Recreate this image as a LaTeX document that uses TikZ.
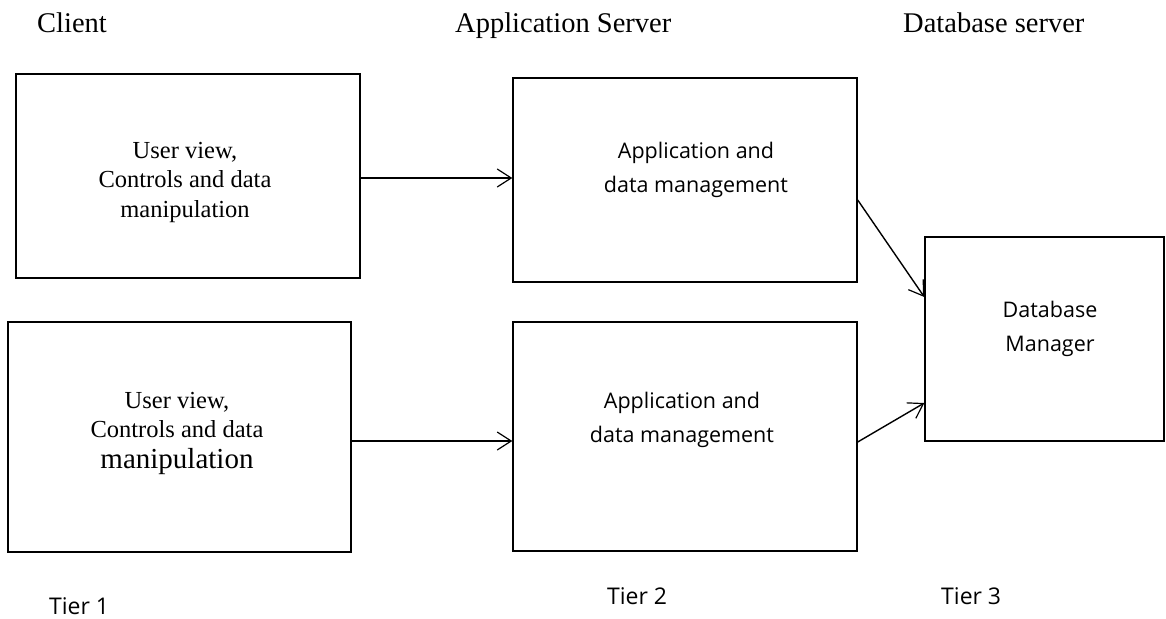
\documentclass[tikz,border=0pt]{standalone}
\usepackage{fontspec}
\setmainfont{Liberation Serif}
\newfontfamily\sansf{Open Sans}
\usetikzlibrary{arrows.meta}
\begin{document}
\begin{tikzpicture}[x=1pt,y=-1pt,
  boxnode/.style={draw, line width=1.4pt, inner sep=0pt, minimum width=#1},
  arr/.style={line width=1.4pt, -{Straight Barb[length=14pt,width=18pt,line width=1.2pt]}},
  head/.style={anchor=base west, inner sep=0pt, font=\fontsize{28.5}{30}\selectfont},
  serifbox/.style={anchor=base, align=center, inner sep=0pt, font=\fontsize{24.5}{29.5}\selectfont},
  sansbox/.style={anchor=base, align=center, inner sep=0pt, font=\sansf\fontsize{21.5}{34}\selectfont},
  tier/.style={anchor=base west, inner sep=0pt, font=\sansf\fontsize{23}{25}\selectfont}]
\useasboundingbox[fill=white] (0,0) rectangle (1166,618);

% boxes
\node[boxnode=344pt, minimum height=204pt] (c1) at (188,176) {};
\node[boxnode=343pt, minimum height=230pt] (c2) at (179.5,437) {};
\node[boxnode=344pt, minimum height=204pt] (a1) at (685,180) {};
\node[boxnode=344pt, minimum height=229pt] (a2) at (685,436.5) {};
\node[boxnode=239pt, minimum height=204pt] (db) at (1044.5,339) {};

% texts in boxes (anchor = baseline of last line)
\node[serifbox] (c1t) at (185,217) {User view,\\Controls and data\\manipulation};
\node[serifbox] (c2t) at (177,468) {User view,\\Controls and data\\[1pt]{\fontsize{29}{30}\selectfont manipulation}};
\node[sansbox] (a1t) at (696,192) {Application and\\data management};
\node[sansbox] (a2t) at (682,442) {Application and\\data management};
\node[sansbox] (dbt) at (1050,351) {Database\\Manager};

% headings
\node[head] (h1) at (37,33) {Client};
\node[head] (h2) at (455,33) {Application Server};
\node[head] (h3) at (903,33) {Database server};

% tiers
\node[tier] (t1) at (49,614) {Tier 1};
\node[tier] (t2) at (607,604) {Tier 2};
\node[tier] (t3) at (941,604) {Tier 3};

% connectors
\draw[arr] ([yshift=-2pt]c1.east) -- ([yshift=-2pt]c1.east -| a1.west);
\draw[arr] ([yshift=-4pt]c2.east) -- ([yshift=-4pt]c2.east -| a2.west);
\draw[arr] ([yshift=-20pt]a1.east) -- ([yshift=42pt]db.west);
\draw[arr] ([yshift=-5.5pt]a2.east) -- ([yshift=-64pt]db.west);
\end{tikzpicture}
\end{document}
